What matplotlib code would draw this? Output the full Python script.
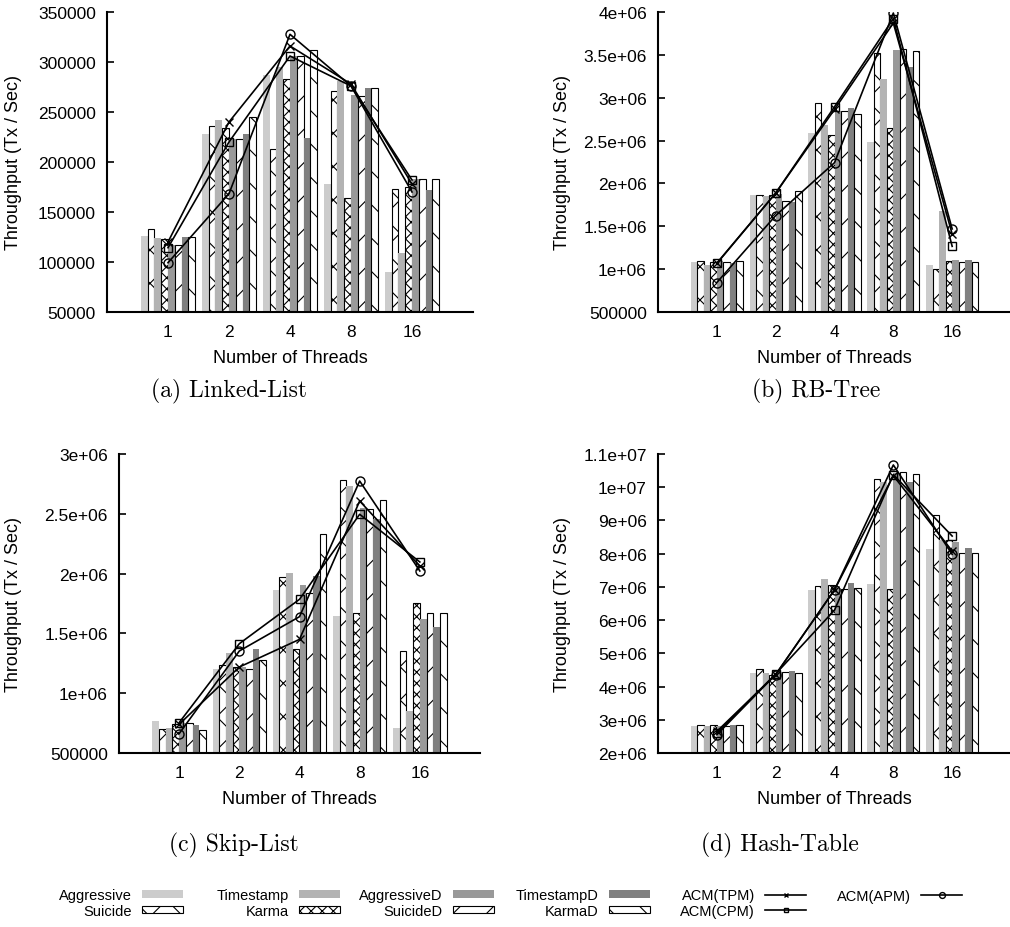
import matplotlib.pyplot as plt
import numpy as np
from matplotlib.ticker import FormatStrFormatter, MultipleLocator

threads = ["1", "2", "4", "8", "16"]
policies = ["Aggressive", "Suicide", "Timestamp", "Karma",
            "AggressiveD", "SuicideD", "TimestampD", "KarmaD"]
acm_names = ["ACM(TPM)", "ACM(CPM)", "ACM(APM)"]

# throughput per policy, columns follow threads (1, 2, 4, 8, 16)
ll_bars = [
    [126000, 227700, 286700, 177700, 90000],
    [132700, 236000, 212700, 271000, 172700],
    [124300, 241700, 295000, 281000, 109300],
    [122700, 234300, 282700, 164300, 175000],
    [117000, 222700, 306000, 266700, 182700],
    [117000, 222700, 306000, 266000, 183300],
    [125000, 227700, 223700, 274300, 171700],
    [125300, 245300, 311700, 274300, 183000],
]
ll_acm = [
    [120000, 240000, 316000, 278000, 178000],
    [114300, 220000, 306000, 276000, 182000],
    [99300, 168300, 327700, 276000, 170000],
]

rb_bars = [
    [1080000, 1867000, 2594000, 2484000, 1047000],
    [1090000, 1867000, 2933000, 3527000, 1000000],
    [1050000, 1851000, 2680000, 3215000, 1680000],
    [1078000, 1860000, 2570000, 2648000, 1090000],
    [1090000, 1879000, 2850000, 3555000, 1105000],
    [1080000, 1800000, 2844000, 3570000, 1078000],
    [1070000, 1789000, 2875000, 3363000, 1105000],
    [1090000, 1906000, 2812000, 3550000, 1078000],
]
rb_acm = [
    [1066000, 1887000, 2863000, 3871000, 1410000],
    [1070000, 1887000, 2894000, 3922000, 1266000],
    [843700, 1625000, 2242000, 3988000, 1469000],
]

sl_bars = [
    [765000, 1205000, 1860000, 1645000, 706000],
    [698000, 1236000, 1972000, 2780000, 1353000],
    [706000, 1333000, 2008000, 2730000, 851000],
    [740000, 1219000, 1372000, 1668000, 1751000],
    [754000, 1215000, 1902000, 2550000, 1617000],
    [754000, 1205000, 1835000, 2543000, 1673000],
    [731000, 1372000, 1980000, 2459000, 1556000],
    [690000, 1275000, 2334000, 2613000, 1670000],
]
sl_acm = [
    [740000, 1219000, 1450000, 2607000, 2063000],
    [754000, 1414000, 1785000, 2496000, 2097000],
    [662000, 1353000, 1640000, 2774000, 2022000],
]

ht_bars = [
    [2800000, 4410000, 6900000, 7100000, 8150000],
    [2830000, 4530000, 7030000, 10250000, 9170000],
    [2810000, 4410000, 7250000, 10150000, 8420000],
    [2830000, 4350000, 7050000, 6950000, 8420000],
    [2820000, 4450000, 6980000, 10430000, 8350000],
    [2810000, 4430000, 6950000, 10460000, 8030000],
    [2830000, 4460000, 7130000, 10150000, 8170000],
    [2830000, 4400000, 6980000, 10400000, 8030000],
]
ht_acm = [
    [2650000, 4360000, 6910000, 10350000, 8080000],
    [2600000, 4380000, 6300000, 10380000, 8530000],
    [2550000, 4360000, 6910000, 10670000, 7980000],
]

# bar looks: solid grays for the plain policies, hatches for the others
fills = ["#cccccc", "white", "#b3b3b3", "white", "#999999", "white", "#808080", "white"]
hatches = [None, "x", None, "xxx", None, "/", None, "\\"]
markers = ["x", "s", "o"]

plt.rcParams["font.family"] = ["Liberation Sans", "DejaVu Sans"]
plt.rcParams["hatch.linewidth"] = 0.8

W, H = 1010, 928
fig = plt.figure(figsize=(W / 100, H / 100), dpi=100)


def px_axes(left, top, right, bottom):
    return fig.add_axes([left / W, 1 - bottom / H, (right - left) / W, (bottom - top) / H])


panels = [
    (px_axes(107, 13, 473, 313), ll_bars, ll_acm, (50000, 350000), 50000, -0.233, "(a) Linked-List", 229, 391),
    (px_axes(658, 13, 1011, 313), rb_bars, rb_acm, (500000, 4000000), 500000, -0.246, "(b) RB-Tree", 816, 391),
    (px_axes(119, 455, 480, 754), sl_bars, sl_acm, (500000, 3000000), 500000, -0.27, "(c) Skip-List", 234, 845),
    (px_axes(658, 455, 1011, 754), ht_bars, ht_acm, (2000000, 11000000), 1000000, -0.246, "(d) Hash-Table", 780, 845),
]

x = np.arange(len(threads))
width = 1 / 9
bar_handles, line_handles = [], []

for ax, bars, acm, ylim, ystep, ylab_x, caption, cx, cy in panels:
    for i, name in enumerate(policies):
        solid = hatches[i] is None
        b = ax.bar(x + (i - 3.5) * width, bars[i], width,
                   color=fills[i], hatch=hatches[i],
                   edgecolor="none" if solid else "black",
                   linewidth=0 if solid else 0.8, label=name, zorder=2)
        if ax is panels[0][0]:
            bar_handles.append(b)
    for j, name in enumerate(acm_names):
        ln, = ax.plot(x, acm[j], color="black", lw=1.2, marker=markers[j],
                      ms=6.5 if markers[j] == "o" else 5.5, mfc="none", mec="black",
                      mew=1.0, label=name, zorder=3)
        if ax is panels[0][0]:
            line_handles.append(ln)

    ax.set_xlim(-1, 5)
    ax.set_ylim(*ylim)
    ax.yaxis.set_major_locator(MultipleLocator(ystep))
    ax.yaxis.set_major_formatter(FormatStrFormatter("%g"))
    ax.set_xticks(x)
    ax.set_xticklabels(threads)
    ax.tick_params(axis="x", length=0, pad=9, labelsize=12.5)
    ax.tick_params(axis="y", direction="in", length=5, width=1.2, pad=8, labelsize=12.5)
    for side in ("top", "right"):
        ax.spines[side].set_visible(False)
    for side in ("left", "bottom"):
        ax.spines[side].set_linewidth(1.5)
    ax.set_xlabel("Number of Threads", fontsize=13)
    ax.xaxis.set_label_coords(0.5, -0.125)
    ax.set_ylabel("Throughput (Tx / Sec)", fontsize=13)
    ax.yaxis.set_label_coords(ylab_x, 0.5)
    fig.text(cx / W, 1 - cy / H, caption, family="cmr10", fontsize=17,
             ha="center", va="center")

# legend: six columns, label on the left of its sample
handles = bar_handles + line_handles
labels = policies + acm_names
columns = [(0, 1), (2, 3), (4, 5), (6, 7), (8, 9), (10,)]
col_right = [183, 340, 494, 650, 806, 962]
for cols, xr in zip(columns, col_right):
    yc = 897 if len(cols) == 1 else 904
    fig.legend([handles[k] for k in cols], [labels[k] for k in cols],
               loc="center right", bbox_to_anchor=(xr / W, 1 - yc / H),
               frameon=False, markerfirst=False, fontsize=10.5,
               handlelength=2.8, handleheight=0.45, handletextpad=0.7,
               labelspacing=0.1, borderpad=0, borderaxespad=0,
               markerscale=0.65)

fig.savefig("out.png", dpi=100)
